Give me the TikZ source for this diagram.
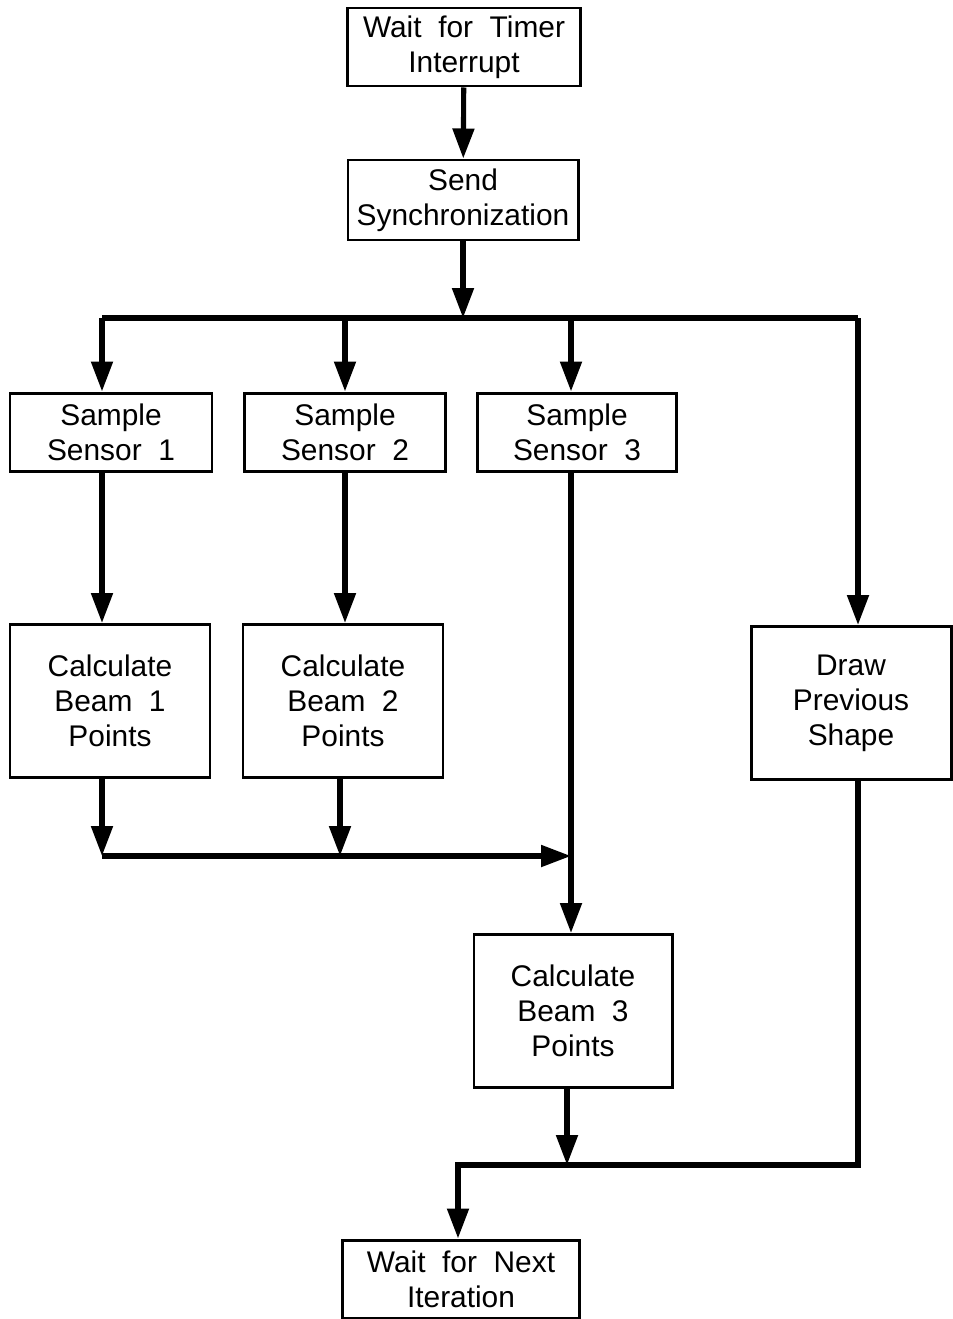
\documentclass[tikz,border=0pt]{standalone}
\usepackage{fontspec}
\setmainfont{Liberation Sans}
\usetikzlibrary{arrows.meta}
\tikzset{task/.style={draw, line width=1.7pt, align=center, inner sep=2pt, font=\fontsize{17}{20}\selectfont},
  flow/.style={line width=2.9pt, -{Triangle[length=0.6cm,width=0.42cm]}},
  wire/.style={line width=2.9pt}}
\newcommand{\task}[6]{\node[task, minimum width=#4cm, minimum height=#5cm] (#1) at (#2,#3) {#6};}
\newcommand{\flow}[2]{\draw[flow] (#1) -- (#2);}
\newcommand{\wire}[2]{\draw[wire] (#1) -- (#2);}

\begin{document}
\begin{tikzpicture}
    \useasboundingbox (0,0) rectangle (19.04,-26.38);
    \task{wait}{9.28}{-0.94}{4.66}{1.56}{Wait\ \ for\ \ Timer\\Interrupt}
    \task{sync}{9.26}{-4.0}{4.6}{1.6}{Send\\Synchronization}
    \task{s1}{2.22}{-8.64}{4.04}{1.56}{Sample\\Sensor\ \ 1}    \task{s2}{6.9}{-8.64}{4.02}{1.56}{Sample\\Sensor\ \ 2}
    \task{s3}{11.54}{-8.64}{3.98}{1.56}{Sample\\Sensor\ \ 3}
    \task{c1}{2.2}{-14.02}{4.0}{3.06}{Calculate\\Beam\ \ 1\\Points}    \task{c2}{6.86}{-14.02}{4.0}{3.06}{Calculate\\Beam\ \ 2\\Points}
    \task{draw}{17.02}{-14.06}{4.0}{3.06}{Draw\\Previous\\Shape}
    \task{c3}{11.46}{-20.22}{3.96}{3.06}{Calculate\\Beam\ \ 3\\Points}
    \task{next}{9.22}{-25.58}{4.74}{1.56}{Wait\ \ for\ \ Next\\Iteration}
    % bus and join points
    \coordinate (bl) at (2.04,-6.36); \coordinate (b2) at (6.9,-6.36);
    \coordinate (b3) at (11.42,-6.36); \coordinate (br) at (17.16,-6.36);
    \coordinate (j1) at (2.04,-17.12); \coordinate (j2) at (6.8,-17.12);
    \coordinate (j3) at (11.42,-17.12);
    \coordinate (m3) at (11.34,-23.3); \coordinate (mr) at (17.16,-23.3);
    \coordinate (ml) at (9.16,-23.3);
    \flow{wait}{sync}\flow{sync}{sync |- bl}\wire{bl}{br}
    \flow{bl}{bl |- s1.north}\flow{b2}{b2 |- s2.north}\flow{b3}{b3 |- s3.north}\flow{br}{br |- draw.north}
    \flow{bl |- s1.south}{bl |- c1.north}\flow{b2 |- s2.south}{b2 |- c2.north}
    \flow{j3 |- s3.south}{j3 |- c3.north}
    \flow{j1 |- c1.south}{j1}\flow{j2 |- c2.south}{j2}\flow{j1}{j3}
    \flow{m3 |- c3.south}{m3}
    \draw[flow] (mr |- draw.south) -- (mr) -- (ml) -- (ml |- next.north);
\end{tikzpicture}
\end{document}
